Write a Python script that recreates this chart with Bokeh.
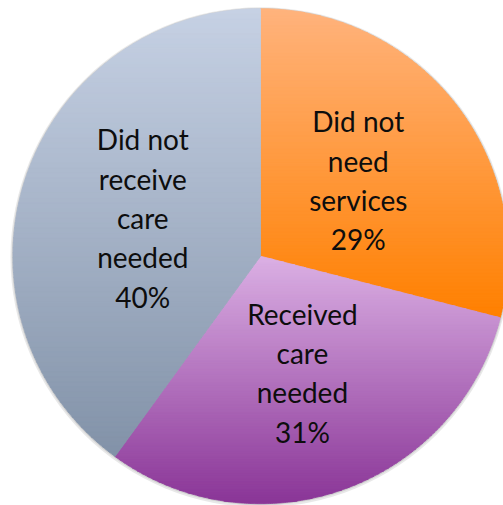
import numpy as np
from bokeh.plotting import figure
from bokeh.models import Range1d, ColumnDataSource
from bokeh.core.properties import value
from bokeh.embed import file_html
from bokeh.resources import INLINE

# ---- data ----
categories = ["Did not need services", "Received care needed", "Did not receive care needed"]
label_lines = [["Did not", "need", "services"],
               ["Received", "care", "needed"],
               ["Did not", "receive", "care", "needed"]]
percent = [29, 31, 40]
top_colors = ["#ffb37d", "#dbb0e4", "#c6d1e4"]
bottom_colors = ["#ff8000", "#8a3597", "#8292a8"]

# ---- layout (pixels) ----
W, H = 503, 505
CX, CY, R = 260.0, 505 - 255.7, 247.5
LABEL_FRAC = 0.5
LINE_STEP = 39.3
N_BANDS = 90

p = figure(width=W, height=H, output_backend="svg", toolbar_location=None,
           x_range=Range1d(0, W), y_range=Range1d(0, H), min_border=0)
p.axis.visible = False
p.xgrid.visible = False
p.ygrid.visible = False
p.outline_line_color = None
p.background_fill_color = "white"
p.border_fill_color = "white"

# soft shadow
p.circle(x=[CX], y=[CY - 1], radius=R + 2.5, fill_color="#7f7f7f", fill_alpha=0.18, line_color=None)
p.circle(x=[CX], y=[CY - 0.5], radius=R + 1.2, fill_color="#7f7f7f", fill_alpha=0.22, line_color=None)


def hex2rgb(h):
    h = h.lstrip("#")
    return np.array([int(h[i:i + 2], 16) for i in (0, 2, 4)], dtype=float)


def rgb2hex(c):
    c = np.clip(np.round(c), 0, 255).astype(int)
    return "#%02x%02x%02x" % tuple(c)


def clip(poly, y, keep_above):
    out = []
    n = len(poly)
    for i in range(n):
        P = poly[i]
        Q = poly[(i + 1) % n]
        inP = P[1] >= y if keep_above else P[1] <= y
        inQ = Q[1] >= y if keep_above else Q[1] <= y
        if inP:
            out.append(P)
        if inP != inQ:
            t = (y - P[1]) / (Q[1] - P[1])
            out.append((P[0] + t * (Q[0] - P[0]), y))
    return out


total = float(sum(percent))
xs_all, ys_all, cols_all = [], [], []
lx, ly, ltxt = [], [], []
start = 0.0
for k, v in enumerate(percent):
    frac = v / total
    th0 = start * 2 * np.pi
    th1 = (start + frac) * 2 * np.pi
    nseg = max(8, int(np.degrees(th1 - th0) * 2))
    th = np.linspace(th0, th1, nseg + 1)
    arc = [(CX + R * np.sin(t), CY + R * np.cos(t)) for t in th]
    poly = [(CX, CY)] + arc
    ys = [q[1] for q in poly]
    ytop, ybot = max(ys), min(ys)
    h = (ytop - ybot) / N_BANDS
    c0, c1 = hex2rgb(top_colors[k]), hex2rgb(bottom_colors[k])
    for i in range(N_BANDS):
        yhi = ytop - i * h
        ylo = ytop - (i + 1) * h - 0.6
        band = clip(clip(poly, yhi, False), ylo, True)
        if len(band) < 3:
            continue
        t = (i + 0.5) / N_BANDS
        col = rgb2hex(c0 + (c1 - c0) * t)
        xs_all.append([q[0] for q in band])
        ys_all.append([q[1] for q in band])
        cols_all.append(col)
    # label
    mid = (start + frac / 2) * 2 * np.pi
    ax = CX + LABEL_FRAC * R * np.sin(mid)
    ay = CY + LABEL_FRAC * R * np.cos(mid)
    lines = label_lines[k] + ["%d%%" % v]
    n = len(lines)
    for i, s in enumerate(lines):
        lx.append(ax)
        ly.append(ay + (n - 1) / 2 * LINE_STEP - i * LINE_STEP)
        ltxt.append(s)
    start += frac

src = ColumnDataSource(dict(xs=xs_all, ys=ys_all, c=cols_all))
p.patches(xs="xs", ys="ys", fill_color="c", line_color="c", line_width=0.8, source=src)

lsrc = ColumnDataSource(dict(x=lx, y=ly, t=ltxt))
p.text(x="x", y="y", text="t", source=lsrc, text_align="center", text_baseline="middle",
       text_font=value("Lato"), text_font_size="28px", text_color="#0d0d0d")

open("out.html", "w").write(file_html(p, INLINE))
